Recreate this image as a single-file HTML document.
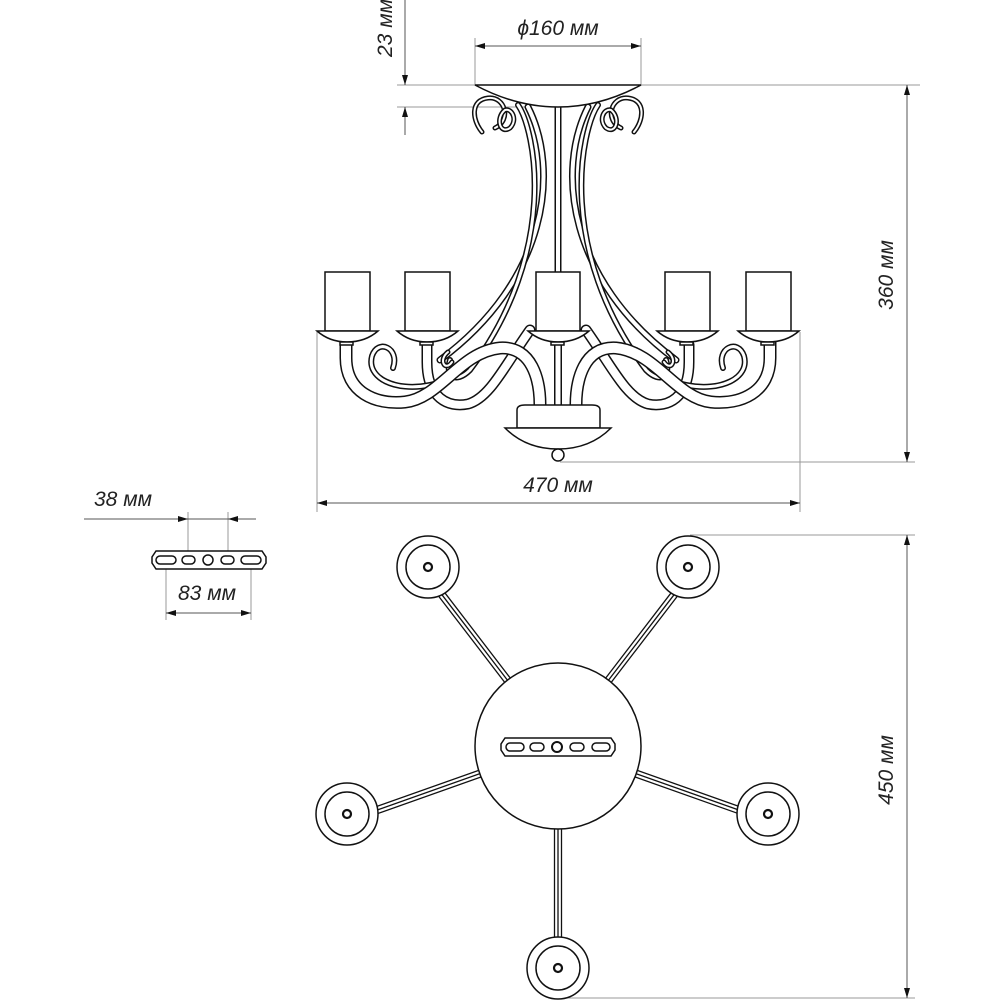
<!DOCTYPE html>
<html><head><meta charset="utf-8"><style>
html,body{margin:0;padding:0;background:#fff;}
svg{display:block;}
text{font-family:"Liberation Sans",sans-serif;font-style:italic;font-size:21px;fill:#222;}
</style></head><body>
<svg width="1000" height="1000" viewBox="0 0 1000 1000" xmlns="http://www.w3.org/2000/svg">
<defs>
<marker id="ar" viewBox="0 0 10 6" refX="10" refY="3" markerWidth="14" markerHeight="6" orient="auto-start-reverse" markerUnits="userSpaceOnUse"><path d="M0,0 L10,3 L0,6 Z" fill="#111"/></marker>
<g id="rail">
<line x1="-3.5" y1="0" x2="-3.5" y2="-200"/>
<line x1="0" y1="0" x2="0" y2="-200"/>
<line x1="3.5" y1="0" x2="3.5" y2="-200"/>
</g>
<g id="plate"><circle cx="0" cy="0" r="31"/><circle cx="0" cy="0" r="22"/><circle cx="0" cy="0" r="4" stroke-width="2.2"/></g>
</defs>
<g stroke="#999" stroke-width="1" fill="none">
<line x1="397" y1="85" x2="920" y2="85"/>
<line x1="397" y1="107" x2="530" y2="107"/>
<line x1="475" y1="38" x2="475" y2="85"/>
<line x1="641" y1="38" x2="641" y2="85"/>
<line x1="317" y1="332" x2="317" y2="512"/>
<line x1="800" y1="332" x2="800" y2="512"/>
<line x1="560" y1="462" x2="915" y2="462"/>
<line x1="690" y1="535" x2="915" y2="535"/>
<line x1="560" y1="998" x2="915" y2="998"/>
<line x1="188" y1="512" x2="188" y2="562"/>
<line x1="228" y1="512" x2="228" y2="562"/>
<line x1="166" y1="560" x2="166" y2="620"/>
<line x1="251" y1="560" x2="251" y2="620"/>
</g>
<g stroke="#555" stroke-width="1" fill="none">
<line x1="405" y1="0" x2="405" y2="85" marker-end="url(#ar)"/>
<line x1="405" y1="135" x2="405" y2="107" marker-end="url(#ar)"/>
<line x1="475" y1="46" x2="641" y2="46" marker-start="url(#ar)" marker-end="url(#ar)"/>
<line x1="317" y1="503" x2="800" y2="503" marker-start="url(#ar)" marker-end="url(#ar)"/>
<line x1="907" y1="85" x2="907" y2="462" marker-start="url(#ar)" marker-end="url(#ar)"/>
<line x1="907" y1="535" x2="907" y2="998" marker-start="url(#ar)" marker-end="url(#ar)"/>
<line x1="84" y1="519" x2="188" y2="519" marker-end="url(#ar)"/>
<line x1="256" y1="519" x2="228" y2="519" marker-end="url(#ar)"/>
<line x1="188" y1="519" x2="228" y2="519"/>
<line x1="166" y1="613" x2="251" y2="613" marker-start="url(#ar)" marker-end="url(#ar)"/>
</g>
<text x="558" y="35" text-anchor="middle">ϕ160 мм</text>
<text x="558" y="492" text-anchor="middle">470 мм</text>
<text x="123" y="506" text-anchor="middle">38 мм</text>
<text x="207" y="600" text-anchor="middle">83 мм</text>
<text transform="translate(392,28) rotate(-90)" text-anchor="middle">23 мм</text>
<text transform="translate(893,275) rotate(-90)" text-anchor="middle">360 мм</text>
<text transform="translate(893,770) rotate(-90)" text-anchor="middle">450 мм</text>

<g fill="none" stroke-linecap="round">
<g id="mainL">
<path d="M528,107 C560,170 548,280 440,360" stroke="#111" stroke-width="7"/>
<path d="M528,107 C560,170 548,280 440,360" stroke="#fff" stroke-width="4"/>
<path d="M518,105 C535,130 560,250 470,370 C455,385 445,375 450,360" stroke="#111" stroke-width="6"/>
<path d="M518,105 C535,130 560,250 470,370 C455,385 445,375 450,360" stroke="#fff" stroke-width="3"/>
</g>
<use href="#mainL" transform="translate(1116,0) scale(-1,1)"/>
<path d="M558,95 L558,272" stroke="#111" stroke-width="7"/>
<path d="M558,95 L558,272" stroke="#fff" stroke-width="4"/>
<g id="scrL">
<path d="M482,132 C472,120 470,100 488,98 C505,96 512,120 495,128" stroke="#111" stroke-width="5"/>
<path d="M482,132 C472,120 470,100 488,98 C505,96 512,120 495,128" stroke="#fff" stroke-width="2"/>
<path d="M505,110 C495,118 500,135 510,128 C518,120 512,108 505,110" stroke="#111" stroke-width="5"/>
<path d="M505,110 C495,118 500,135 510,128 C518,120 512,108 505,110" stroke="#fff" stroke-width="2"/>
</g>
<use href="#scrL" transform="translate(1116,0) scale(-1,1)"/>
<path d="M475,85 L641,85 Q600,107 558,107 Q516,107 475,85 Z" fill="#fff" stroke="#111" stroke-width="1.5"/>
<g id="armsL">
<path d="M427,345 L427,362 C427,398 448,408 468,404 C490,398 505,365 530,330" stroke="#111" stroke-width="11"/>
<path d="M427,345 L427,362 C427,398 448,408 468,404 C490,398 505,365 530,330" stroke="#fff" stroke-width="8"/>
<path d="M393,368 C400,348 378,338 372,356 C366,378 395,392 430,385 C455,380 470,365 480,350" stroke="#111" stroke-width="6"/>
<path d="M393,368 C400,348 378,338 372,356 C366,378 395,392 430,385 C455,380 470,365 480,350" stroke="#fff" stroke-width="3"/>
<path d="M346,342 L346,358 C346,392 375,405 405,402 C440,398 460,352 500,348 C532,346 540,380 540,405" stroke="#111" stroke-width="13"/>
<path d="M346,342 L346,358 C346,392 375,405 405,402 C440,398 460,352 500,348 C532,346 540,380 540,405" stroke="#fff" stroke-width="10"/>
<path d="M448,352 C438,360 445,372 452,362" stroke="#111" stroke-width="5"/>
<path d="M448,352 C438,360 445,372 452,362" stroke="#fff" stroke-width="2"/>
</g>
<use href="#armsL" transform="translate(1116,0) scale(-1,1)"/>
<path d="M558,340 L558,405" stroke="#111" stroke-width="8"/>
<path d="M558,340 L558,405" stroke="#fff" stroke-width="5"/>
</g>
<g fill="#fff" stroke="#111" stroke-width="1.5">
<rect x="325" y="272" width="45" height="59"/>
<rect x="405" y="272" width="45" height="59"/>
<rect x="536" y="272" width="44" height="59"/>
<rect x="665" y="272" width="45" height="59"/>
<rect x="746" y="272" width="45" height="59"/>
<g id="cup"><path d="M317,331 L378,331 C370,338 360,342 347,342 C334,342 325,338 317,331 Z"/><rect x="340" y="342" width="13" height="3"/></g>
<use href="#cup" transform="translate(80,0)"/>
<use href="#cup" transform="translate(211,0)"/>
<use href="#cup" transform="translate(340,0)"/>
<use href="#cup" transform="translate(421,0)"/>
<path d="M517,428 L517,410 Q517,405 525,405 L592,405 Q600,405 600,410 L600,428 Z"/>
<path d="M505,428 L611,428 Q590,449 558,449 Q526,449 505,428 Z"/>
<circle cx="558" cy="455" r="6"/>
</g>

<g fill="#fff" stroke="#111" stroke-width="1.5">
<path d="M156,551 L262,551 L266,557 L266,563 L262,569 L156,569 L152,563 L152,557 Z"/>
<rect x="156" y="556" width="20" height="8" rx="4"/>
<rect x="182" y="556" width="13" height="8" rx="4"/>
<circle cx="208" cy="560" r="5"/>
<rect x="221" y="556" width="13" height="8" rx="4"/>
<rect x="241" y="556" width="20" height="8" rx="4"/>
</g>

<g stroke="#111" stroke-width="1.3">
<use href="#rail" transform="translate(558,746) rotate(180)"/>
<use href="#rail" transform="translate(558,746) rotate(-37.5)"/>
<use href="#rail" transform="translate(558,746) rotate(37.5)"/>
<use href="#rail" transform="translate(558,746) rotate(-109.5)"/>
<use href="#rail" transform="translate(558,746) rotate(109.5)"/>
</g>
<g fill="#fff" stroke="#111" stroke-width="1.5">
<circle cx="558" cy="746" r="83"/>
<use href="#plate" transform="translate(428,567)"/>
<use href="#plate" transform="translate(688,567)"/>
<use href="#plate" transform="translate(347,814)"/>
<use href="#plate" transform="translate(768,814)"/>
<use href="#plate" transform="translate(558,968)"/>
<path d="M505,738 L611,738 L615,744 L615,750 L611,756 L505,756 L501,750 L501,744 Z"/>
<rect x="506" y="743" width="18" height="8" rx="4"/>
<rect x="530" y="743" width="14" height="8" rx="4"/>
<circle cx="557" cy="747" r="5" stroke-width="2"/>
<rect x="570" y="743" width="14" height="8" rx="4"/>
<rect x="592" y="743" width="18" height="8" rx="4"/>
</g>
</svg>
</body></html>
